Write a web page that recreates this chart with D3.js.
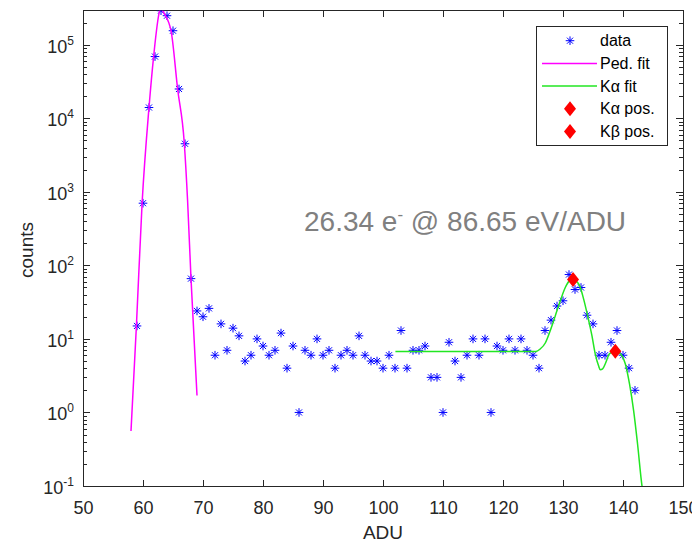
<!DOCTYPE html>
<html lang="en">
<head>
<meta charset="UTF-8">
<title>ADU spectrum</title>
<script src="https://d3js.org/d3.v7.min.js"></script>
<style>
body{
    margin: 0;
    background: #fff;
}
svg{
    font-family: "Liberation Sans", Arial, sans-serif;
}
.axis path,
.axis line{
    fill: none;
    stroke: #262626;
    shape-rendering: crispEdges;
}
.tick text{
    font-size: 18px;
    fill: #262626;
}
.ylab{
    font-size: 18px;
    fill: #262626;
}
.title{
    font-size: 19px;
    fill: #262626;
}
.legendTxt{
    font-size: 16px;
    fill: #000;
}
.note{
    font-size: 28px;
    fill: #808080;
}
</style>
</head>
<body>
<script>
var width = 692;
var height = 542;
// plot area (window.top is reserved, so no plain "top")
var pLeft = 83, pRight = 683, pTop = 10.7, pBottom = 486;

// histogram
var adu = [59, 60, 61, 62, 63, 64, 65, 66, 67, 68, 69, 70, 71, 72, 73, 74, 75, 76, 77, 78,
    79, 80, 81, 82, 83, 84, 85, 86, 87, 88, 89, 90, 91, 92, 93, 94, 95, 96, 97, 98,
    99, 100, 101, 102, 103, 104, 105, 106, 107, 108, 109, 110, 111, 112, 113, 114, 115, 116, 117, 118,
    119, 120, 121, 122, 123, 124, 125, 126, 127, 128, 129, 130, 131, 132, 133, 134, 135, 136, 137, 138,
    139, 140, 141, 142];
var counts = [15, 700, 14000, 69000, 290000, 248000, 155000, 25000, 4500, 66, 24, 20, 26, 6, 16, 7, 14, 11, 5, 6,
    10, 8, 6, 7, 12, 4, 8, 1, 7, 6, 10, 6, 7, 4, 6, 7, 6, 11, 6, 5,
    5, 4, 6, 4, 13, 4, 7, 7, 8, 3, 3, 1, 9, 5, 3, 6, 10, 6, 10, 1,
    8, 7, 10, 7, 10, 7, 6, 4, 13, 18, 28, 33, 75, 47, 50, 21, 16, 6, 6, 9,
    13, 6, 4, 2];

// pedestal fit
var pedX = [58.0, 58.9, 59.85, 61.0, 61.77, 62.75, 63.05, 63.35, 64.67, 65.77, 66.88, 67.43, 68.0, 69.0];
var pedY = [0.56, 15, 700, 14000, 69000, 284000, 320000, 284000, 155000, 25000, 4600, 760, 66, 1.7];

// K-alpha / K-beta fit
var kaX = [102.07, 125.5, 126.2, 127.05, 127.88, 128.72, 129.55, 130.38, 131.1, 131.67, 132.2, 132.77, 133.43,
    134.1, 134.83, 135.38, 135.93, 136.22, 136.6, 137.05, 137.77, 138.72, 139.83, 140.38, 141.1, 141.77,
    142.43, 143.17, 143.5];
var kaY = [6.75, 6.75, 7.3, 8.8, 13, 20.7, 33, 50, 62, 65, 61, 53, 35,
    20.7, 11, 6.2, 4.3, 3.8, 3.9, 4.6, 6.3, 6.8, 5.9, 4.6, 2.4, 1.06,
    0.37, 0.1, 0.07];

// peak positions
var peakX = [131.67, 138.72];
var peakY = [64, 6.8];

var xTicks = [50, 60, 70, 80, 90, 100, 110, 120, 130, 140, 150];
var yExps = [-1, 0, 1, 2, 3, 4, 5];
var legendNames = ["data", "Ped. fit", "K\u03b1 fit", "K\u03b1 pos.", "K\u03b2 pos."];

var pts = adu.map(function(d, i){ return {x: d, y: counts[i]}; });

var svg = d3.select("body")
    .append("svg")
    .attr("width", width)
    .attr("height", height);

var xScale = d3.scaleLinear().domain([50, 150]).range([pLeft, pRight]);
var yScale = d3.scaleLog().domain([0.1, 290000]).range([pBottom, pTop]);

// minor ticks 2..9 per decade
var minor = [];
yExps.forEach(function(e){
    for (var m = 2; m <= 9; m++) {
        var v = m * Math.pow(10, e);
        if (v < 290000) minor.push(v);
    }
});
var major = yExps.map(function(e){ return Math.pow(10, e); });

svg.append("defs").append("clipPath").attr("id", "plotClip")
    .append("rect")
    .attr("x", pLeft).attr("y", pTop)
    .attr("width", pRight - pLeft).attr("height", pBottom - pTop);

// axes
svg.append("g").attr("class", "axis")
    .attr("transform", "translate(0," + pBottom + ")")
    .call(d3.axisBottom(xScale).tickValues(xTicks).tickSizeInner(-6).tickSizeOuter(0).tickPadding(15));
svg.append("g").attr("class", "axis")
    .attr("transform", "translate(0," + pTop + ")")
    .call(d3.axisTop(xScale).tickValues(xTicks).tickSizeInner(-6).tickSizeOuter(0).tickFormat(""));

svg.append("g").attr("class", "axis")
    .attr("transform", "translate(" + pLeft + ",0)")
    .call(d3.axisLeft(yScale).tickValues(major).tickSizeInner(-7).tickSizeOuter(0).tickFormat(""));
svg.append("g").attr("class", "axis")
    .attr("transform", "translate(" + pLeft + ",0)")
    .call(d3.axisLeft(yScale).tickValues(minor).tickSizeInner(-4).tickSizeOuter(0).tickFormat(""));
svg.append("g").attr("class", "axis")
    .attr("transform", "translate(" + pRight + ",0)")
    .call(d3.axisRight(yScale).tickValues(major).tickSizeInner(-7).tickSizeOuter(0).tickFormat(""));
svg.append("g").attr("class", "axis")
    .attr("transform", "translate(" + pRight + ",0)")
    .call(d3.axisRight(yScale).tickValues(minor).tickSizeInner(-4).tickSizeOuter(0).tickFormat(""));

svg.selectAll(".axis path.domain").remove();

// y tick labels 10^n
var ylab = svg.append("g").selectAll("text")
    .data(yExps).enter()
    .append("text")
    .attr("class", "ylab")
    .attr("text-anchor", "end")
    .attr("x", pLeft - 9)
    .attr("y", function(d){ return yScale(Math.pow(10, d)) + 8; });
ylab.append("tspan").text("10");
ylab.append("tspan")
    .attr("dy", -8)
    .style("font-size", "12px")
    .text(function(d){ return d; });

// box
svg.append("rect")
    .attr("x", pLeft).attr("y", pTop)
    .attr("width", pRight - pLeft).attr("height", pBottom - pTop)
    .attr("fill", "none")
    .attr("stroke", "#262626")
    .attr("shape-rendering", "crispEdges");

// axis titles
svg.append("text").attr("class", "title")
    .attr("text-anchor", "middle")
    .attr("x", (pLeft + pRight) / 2)
    .attr("y", 539)
    .text("ADU");
svg.append("text").attr("class", "title")
    .attr("text-anchor", "middle")
    .attr("transform", "translate(33," + 250 + ") rotate(-90)")
    .text("counts");

// markers
function star(r){
    var d = r * Math.SQRT1_2;
    return "M" + (-r) + ",0H" + r + "M0," + (-r) + "V" + r +
        "M" + (-d) + "," + (-d) + "L" + d + "," + d +
        "M" + (-d) + "," + d + "L" + d + "," + (-d);
}
var diamond = "M0,-7.5L6,0L0,7.5L-6,0Z";

var plot = svg.append("g").attr("clip-path", "url(#plotClip)");

plot.append("g").selectAll("path")
    .data(pts).enter()
    .append("path")
    .attr("d", star(4.3))
    .attr("transform", function(d){ return "translate(" + xScale(d.x) + "," + yScale(d.y) + ")"; })
    .attr("stroke", "#0000ff")
    .attr("stroke-width", 1)
    .attr("fill", "none");

var line = d3.line()
    .x(function(d){ return xScale(d[0]); })
    .y(function(d){ return yScale(d[1]); })
    .curve(d3.curveMonotoneX);

plot.append("path")
    .datum(pedX.map(function(d, i){ return [d, pedY[i]]; }))
    .attr("d", line)
    .attr("fill", "none")
    .attr("stroke", "#ff00ff")
    .attr("stroke-width", 1.5);

plot.append("path")
    .datum(kaX.map(function(d, i){ return [d, kaY[i]]; }))
    .attr("d", line)
    .attr("fill", "none")
    .attr("stroke", "#22e622")
    .attr("stroke-width", 1.5);

plot.append("g").selectAll("path")
    .data(peakX).enter()
    .append("path")
    .attr("d", diamond)
    .attr("transform", function(d, i){ return "translate(" + xScale(d) + "," + yScale(peakY[i]) + ")"; })
    .attr("fill", "#ff0000");

// annotation
var note = svg.append("text").attr("class", "note")
    .attr("x", 304)
    .attr("y", 231);
note.append("tspan").text("26.34 e");
note.append("tspan").attr("dy", -11).style("font-size", "17px").text("-");
note.append("tspan").attr("dy", 11).text(" @ 86.65 eV/ADU");

// legend
var lg = svg.append("g").attr("transform", "translate(536,26)");
lg.append("rect")
    .attr("width", 131.5).attr("height", 119)
    .attr("fill", "#fff")
    .attr("stroke", "#262626")
    .attr("shape-rendering", "crispEdges");

var rowY = function(i){ return 14.7 + i * 22.7; };
lg.append("path").attr("d", star(4.3))
    .attr("transform", "translate(34," + rowY(0) + ")")
    .attr("stroke", "#0000ff").attr("fill", "none");
lg.append("line").attr("x1", 6).attr("x2", 61).attr("y1", rowY(1)).attr("y2", rowY(1))
    .attr("stroke", "#ff00ff").attr("stroke-width", 1.5);
lg.append("line").attr("x1", 6).attr("x2", 61).attr("y1", rowY(2)).attr("y2", rowY(2))
    .attr("stroke", "#22e622").attr("stroke-width", 1.5);
[3, 4].forEach(function(i){
    lg.append("path").attr("d", diamond)
        .attr("transform", "translate(34," + rowY(i) + ")")
        .attr("fill", "#ff0000");
});

lg.selectAll(".legendTxt")
    .data(legendNames).enter()
    .append("text")
    .attr("class", "legendTxt")
    .attr("x", 64)
    .attr("y", function(d, i){ return rowY(i) + 5.5; })
    .text(function(d){ return d; });
</script>
</body>
</html>
